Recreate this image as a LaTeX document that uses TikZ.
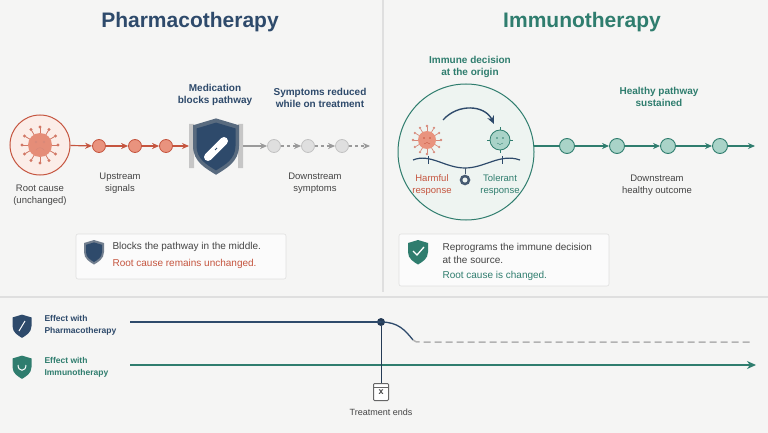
\documentclass[tikz,border=0pt]{standalone}
\usepackage{fontspec}
\setmainfont{Liberation Sans}
\usetikzlibrary{arrows.meta,calc}
\definecolor{navy}{HTML}{2E4A6B}
\definecolor{teal}{HTML}{2F7D6E}
\definecolor{red1}{HTML}{C5553F}
\definecolor{redfill}{HTML}{E9937E}
\definecolor{pinkbg}{HTML}{FBEDE8}
\definecolor{mint}{HTML}{EEF4F1}
\definecolor{tealfill}{HTML}{A9D3C8}
\definecolor{bg}{HTML}{F5F5F4}
\definecolor{gr}{HTML}{9A9A9A}
\definecolor{txt}{HTML}{444444}
\tikzset{
 title/.style={font=\bfseries\fontsize{21}{23}\selectfont},
 head/.style={font=\bfseries\fontsize{10}{12}\selectfont,align=center},
 lab/.style={font=\fontsize{9.5}{12}\selectfont,align=center,text=txt},
 rdot/.style={circle,draw=red1,fill=redfill,minimum size=13pt,inner sep=0,line width=0.8pt},
 gdot/.style={circle,draw=gr!60,fill=gray!25,minimum size=13pt,inner sep=0,line width=0.8pt},
 tdot/.style={circle,draw=teal,fill=tealfill,minimum size=15pt,inner sep=0,line width=0.9pt},
 rarr/.style={draw=red1,line width=1.2pt,-{Stealth[length=7pt,width=6pt]}},
 garr/.style={draw=gr,line width=1.2pt,dashed,-{Stealth[length=7pt,width=6pt]}},
 tarr/.style={draw=teal,line width=1.2pt,-{Stealth[length=7pt,width=6pt]}},
 box/.style={draw=gray!25,fill=white!60!bg,rounded corners=2pt,line width=0.6pt},
 shield/.pic={\fill[pic actions] (-1,-0.9) -- (0,-1.2) -- (1,-0.9) -- (1,0) .. controls (1,0.7) and (0.4,1) .. (0,1.25) .. controls (-0.4,1) and (-1,0.7) .. (-1,0) -- cycle;},
}
\begin{document}
\begin{tikzpicture}[x=1pt,y=-1pt]
\useasboundingbox (0,0) rectangle (768,433);
\fill[bg] (0,0) rectangle (768,433);
\draw[gray!25,line width=1.5pt] (383,0) -- (383,292);
\draw[gray!25,line width=1.5pt] (0,297) -- (768,297);
% titles
\node[title,text=navy] (t1) at (190,22) {Pharmacotherapy};
\node[title,text=teal] (t2) at (582,22) {Immunotherapy};
% LEFT
\node[circle,draw=red1,fill=pinkbg,minimum size=60pt,line width=1pt] (root) at (40,145) {};
\foreach \a in {0,30,...,330}{\draw[red1!80,line width=0.8pt] (40,145) -- ++(\a:17); \fill[red1!80] ($(40,145)+(\a:18)$) circle (1.6);}
\fill[redfill!90!red1] (40,145) circle (12);
\fill[red1!70] (36,142) circle (1.2) (44,142) circle (1.2);
\draw[red1!70] (36,150) .. controls (38,147) and (42,147) .. (44,150);
\node[lab] (rootl) at (40,195) {Root cause\\(unchanged)};
\node[rdot] (u1) at (99,146) {};
\node[rdot] (u2) at (135,146) {};
\node[rdot] (u3) at (166,146) {};
\draw[rarr] (root) -- (u1);
\draw[rarr] (u1) -- (u2);
\draw[rarr] (u2) -- (u3);
\fill[gray!45] (189,124) rectangle (194,168) (238,124) rectangle (243,168);
\pic[fill=navy!70!gray!90,scale=23] (sh0) at (216,146) {shield};
\pic[fill=navy,scale=19.5] (sh1) at (216,146) {shield};
\node[coordinate] (shL) at (189,146) {};
\node[coordinate] (shR) at (243,146) {};
\draw[rarr] (u3) -- (shL);
\draw[white,line width=8pt,line cap=round] (208,157) -- (224,141);
\draw[navy,line width=0.8pt] (215,150) -- (217,148);
\node[head,text=navy] (medl) at (215,95) {Medication\\blocks pathway};
\node[gdot] (d1) at (274,146) {};
\node[gdot] (d2) at (308,146) {};
\node[gdot] (d3) at (342,146) {};
\node[coordinate] (dend) at (370,146) {};
\draw[gr,line width=1.2pt,-{Stealth[length=7pt,width=6pt]}] (shR) -- (d1);
\draw[garr] (d1) -- (d2);
\draw[garr] (d2) -- (d3);
\draw[garr] (d3) -- (dend);
\node[head,text=navy] (sympl) at (320,98) {Symptoms reduced\\while on treatment};
\node[lab] (upl) at (120,183) {Upstream\\signals};
\node[lab] (downl) at (315,183) {Downstream\\symptoms};
\draw[box] (76,234) rectangle (286,279);
\pic[fill=navy!60!gray!80,scale=10] (bsh1) at (94,252) {shield};
\pic[fill=navy,scale=8] (bsh1b) at (94,252) {shield};
\node[lab,anchor=west,font=\fontsize{10}{12}\selectfont] (b1a) at (109,247) {Blocks the pathway in the middle.};
\node[lab,anchor=west,text=red1,font=\fontsize{10}{12}\selectfont] (b1b) at (109,264) {Root cause remains unchanged.};
% RIGHT
\node[head,text=teal] (iml) at (470,67) {Immune decision\\at the origin};
\node[circle,draw=teal,fill=mint,minimum size=136pt,line width=1pt] (big) at (466,152) {};
\foreach \a in {0,30,...,330}{\draw[red1!70,line width=0.7pt] (427,140) -- ++(\a:13); \fill[red1!70] ($(427,140)+(\a:14)$) circle (1.3);}
\fill[redfill] (427,140) circle (9);
\fill[red1] (424,138) circle (0.9) (430,138) circle (0.9);
\draw[red1] (424,144) .. controls (426,142) and (428,142) .. (430,144);
\foreach \a in {0,90,180,270}{\draw[teal,line width=0.7pt] (500,140) -- ++(\a:13);}
\fill[tealfill] (500,140) circle (10);
\draw[teal,line width=0.8pt] (500,140) circle (10);
\fill[teal] (497,138) circle (0.9) (503,138) circle (0.9);
\draw[teal] (497,143) .. controls (499,145) and (501,145) .. (503,143);
\draw[navy,line width=1.4pt,-{Stealth[length=8pt,width=7pt]}] (443,120) .. controls (458,103) and (485,105) .. (494,124);
\draw[navy,line width=1.2pt] (413,160) .. controls (430,153) and (445,168) .. (465,168) .. controls (485,168) and (500,153) .. (520,160);
\draw[navy,line width=1pt] (428,156) -- (428,164) (502,156) -- (502,164);
\draw[navy!70!gray,line width=1pt] (465,168) -- (465,174);
\draw[navy!70!gray,line width=2.5pt] (465,180) circle (4);
\node[lab,text=red1] (harm) at (432,185) {Harmful\\response};
\node[lab,text=teal] (tol) at (500,185) {Tolerant\\response};
\node[tdot] (h1) at (567,146) {};
\node[tdot] (h2) at (617,146) {};
\node[tdot] (h3) at (668,146) {};
\node[tdot] (h4) at (720,146) {};
\node[coordinate] (hend) at (755,146) {};
\node[coordinate] (bigR) at (534,146) {};
\draw[teal,line width=1.2pt] (bigR) -- (h1);
\draw[tarr] (h1) -- (h2);
\draw[tarr] (h2) -- (h3);
\draw[tarr] (h3) -- (h4);
\draw[tarr] (h4) -- (hend);
\node[head,text=teal] (hpl) at (659,97) {Healthy pathway\\sustained};
\node[lab] (dhl) at (657,185) {Downstream\\healthy outcome};
\draw[box] (399,234) rectangle (609,286);
\pic[fill=teal,scale=10] (bsh2) at (418,252) {shield};
\draw[white,line width=1.3pt] (413,251) -- (417,255) -- (424,247);
\node[lab,anchor=west,align=left,font=\fontsize{10}{13}\selectfont] (b2a) at (439,253) {Reprograms the immune decision\\at the source.};
\node[lab,anchor=west,text=teal,font=\fontsize{10}{12}\selectfont] (b2b) at (439,276) {Root cause is changed.};
% BOTTOM
\pic[fill=navy,scale=9.5] (esh1) at (22,326) {shield};
\draw[white,line width=1pt] (19,331) -- (25,321);
\pic[fill=teal,scale=9.5] (esh2) at (22,367) {shield};
\draw[white,line width=1pt] (18,365) .. controls (18,372) and (26,372) .. (26,365);
\node[lab,anchor=west,align=left,text=navy,font=\bfseries\fontsize{8.5}{12}\selectfont] (e1) at (41,325) {Effect with\\Pharmacotherapy};
\node[lab,anchor=west,align=left,text=teal,font=\bfseries\fontsize{8.5}{12}\selectfont] (e2) at (41,367) {Effect with\\Immunotherapy};
\node[circle,fill=navy!80!black,minimum size=8pt,inner sep=0] (endp) at (381,322) {};
\node[coordinate] (p0) at (130,322) {};
\node[coordinate] (p1) at (413,340) {};
\node[coordinate] (p2) at (750,342) {};
\draw[navy,line width=2pt] (p0) -- (endp.center);
\draw[navy,line width=1.3pt] (endp.center) .. controls (398,322) and (405,330) .. (p1);
\draw[gray!60,line width=1.5pt,dash pattern=on 7pt off 4pt] (p1) .. controls (416,342) .. (420,342) -- (p2);
\node[coordinate] (q0) at (130,365) {};
\node[coordinate] (q1) at (756,365) {};
\draw[teal,line width=2pt,-{Stealth[length=9pt,width=8pt]}] (q0) -- (q1);
\node[draw=gray!80!black,fill=white,line width=1pt,minimum width=15pt,minimum height=17pt,inner sep=0,rounded corners=1pt,font=\bfseries\fontsize{9}{9}\selectfont,text=txt] (cal) at (381,392) {x};
\draw[gray!80!black,line width=0.7pt] ($(cal.north west)+(0,4)$) -- ($(cal.north east)+(0,4)$);
\draw[navy!80!black,line width=1pt] (endp) -- (cal);
\node[lab,font=\fontsize{9}{11}\selectfont] (tel) at (381,412) {Treatment ends};
\end{tikzpicture}
\end{document}
